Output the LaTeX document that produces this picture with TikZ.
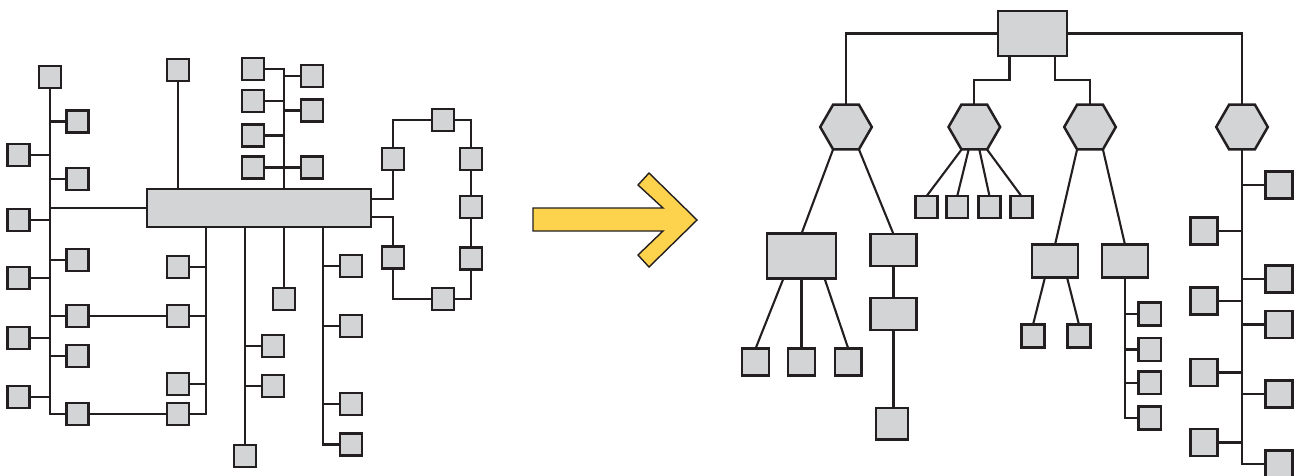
\documentclass[tikz,border=0pt]{standalone}
\usetikzlibrary{shapes.geometric}
\definecolor{boxfill}{RGB}{211,212,214}
\definecolor{ink}{RGB}{35,31,32}
\definecolor{arrowfill}{RGB}{253,211,77}
\begin{document}
\begin{tikzpicture}[x=1pt,y=-1pt,
  box/.style={rectangle, draw=ink, fill=boxfill, line width=2.5pt, inner sep=0pt, outer sep=0pt},
  sq/.style={box, minimum width=#1, minimum height=#1},
  rb/.style 2 args={box, minimum width=#1, minimum height=#2},
  hexa/.style={regular polygon, regular polygon sides=6, draw=ink, fill=boxfill,
    line width=2.5pt, minimum size=51.6pt, inner sep=0pt, outer sep=0pt},
  link/.style={draw=ink, line width=2.1pt},
]
\useasboundingbox (0,0) rectangle (1297,475);
\clip (0,0) rectangle (1297,475);

% ---------- tangled network ----------
\node[sq=21.6pt] (t0) at (50,77) {};
\node[sq=21.6pt] (r1) at (77.5,121.5) {};
\node[sq=21.6pt] (r2) at (77.5,179) {};
\node[sq=21.6pt] (r3) at (77.5,260) {};
\node[sq=21.6pt] (r4) at (77.5,316) {};
\node[sq=21.6pt] (r5) at (77.5,356) {};
\node[sq=21.6pt] (r6) at (77.5,414) {};
\node[sq=21.6pt] (q1) at (18.5,155) {};
\node[sq=21.6pt] (q2) at (18.5,220) {};
\node[sq=21.6pt] (q3) at (18.5,278) {};
\node[sq=21.6pt] (q4) at (18.5,338) {};
\node[sq=21.6pt] (q5) at (18.5,397) {};

\node[rb={223.6pt}{37.6pt}] (hub) at (259,208) {};

\node[sq=21.6pt] (u0) at (178,70) {};
\node[sq=21.6pt] (a1) at (253,69) {};
\node[sq=21.6pt] (a2) at (253,101) {};
\node[sq=21.6pt] (a3) at (253,135.5) {};
\node[sq=21.6pt] (a4) at (253,167.5) {};
\node[sq=21.6pt] (b1) at (312,76) {};
\node[sq=21.6pt] (b2) at (312,110.5) {};
\node[sq=21.6pt] (b3) at (312,167.5) {};

\coordinate (c284) at (284,120);
\coordinate (k1) at (206,300);
\coordinate (k4) at (323,300);

\node[sq=21.6pt] (c1) at (178,267) {};
\node[sq=21.6pt] (c2) at (178,316) {};
\node[sq=21.6pt] (c3) at (178,384) {};
\node[sq=21.6pt] (c4) at (178,414) {};
\node[sq=21.6pt] (e0) at (245,456) {};
\node[sq=21.6pt] (e1) at (273,346) {};
\node[sq=21.6pt] (e2) at (273,386) {};
\node[sq=21.6pt] (f0) at (284,299) {};
\node[sq=21.6pt] (g1) at (351,266) {};
\node[sq=21.6pt] (g2) at (351,326) {};
\node[sq=21.6pt] (g3) at (351,404) {};
\node[sq=21.6pt] (g4) at (351,444.5) {};

\node[sq=21.6pt] (h1) at (393,159) {};
\node[sq=21.6pt] (h2) at (443,120) {};
\node[sq=21.6pt] (h3) at (471,159) {};
\node[sq=21.6pt] (h4) at (471,207) {};
\node[sq=21.6pt] (h5) at (471,258.5) {};
\node[sq=21.6pt] (h6) at (443,299) {};
\node[sq=21.6pt] (h7) at (393,257.5) {};

% left trunk
\draw[link] (t0.south) |- (r6.west);
\foreach \n in {r1,r2,r3,r4,r5} \draw[link] (\n.west) -- (\n.west -| t0);
\foreach \n in {q1,q2,q3,q4,q5} \draw[link] (\n.east) -- (\n.east -| t0);
\draw[link] (hub.west) -- (hub.west -| t0);
% above the hub
\draw[link] (u0.south) -- (u0.south |- hub.north);
\draw[link] (a1.east) -| (c284 |- hub.north);
\foreach \n in {a2,a3} \draw[link] (\n.east) -- (\n.east -| c284);
\foreach \n in {b1,b2} \draw[link] (\n.west) -- (\n.west -| c284);
\draw[link] (a4.east) -- (b3.west);
% below the hub
\draw[link] (k1 |- hub.south) |- (c4.east);
\foreach \n in {c1,c2,c3} \draw[link] (\n.east) -- (\n.east -| k1);
\draw[link] (r4.east) -- (c2.west);
\draw[link] (r6.east) -- (c4.west);
\draw[link] (e0.north) -- (e0.north |- hub.south);
\foreach \n in {e1,e2} \draw[link] (\n.west) -- (\n.west -| e0);
\draw[link] (f0.north) -- (f0.north |- hub.south);
\draw[link] (k4 |- hub.south) |- (g4.west);
\foreach \n in {g1,g2,g3} \draw[link] (\n.west) -- (\n.west -| k4);
% ring
\draw[link] ([yshift=9pt]hub.east) -| (h1.south);
\draw[link] ([yshift=-9pt]hub.east) -| (h7.north);
\draw[link] (h1.north) |- (h2.west);
\draw[link] (h2.east) -| (h3.north);
\draw[link] (h3.south) -- (h4.north);
\draw[link] (h4.south) -- (h5.north);
\draw[link] (h5.south) |- (h6.east);
\draw[link] (h6.west) -| (h7.south);

% ---------- arrow ----------
\draw[draw=ink, fill=arrowfill, line width=1.4pt, line join=miter]
  (533,208) -- (663,208) -- (638,185) -- (649,173) -- (697,220)
  -- (649,267) -- (638,255) -- (663,231) -- (533,231) -- cycle;

% ---------- hierarchy ----------
\node[rb={68.6pt}{44.6pt}] (T) at (1032.5,33.5) {};
\node[hexa] (H1) at (846,127) {};
\node[hexa] (H2) at (974.3,127) {};
\node[hexa] (H3) at (1090,127) {};
\node[hexa] (H4) at (1242,127) {};
\coordinate (j2) at (1000,80);

\node[rb={68.6pt}{44.6pt}] (B1) at (801.5,256) {};
\node[sq=26.6pt] (s1) at (755.5,362) {};
\node[sq=26.6pt] (s2) at (801.5,362) {};
\node[sq=26.6pt] (s3) at (848.3,362) {};
\node[rb={45.6pt}{31.6pt}] (B2) at (893.5,250) {};
\node[rb={45.6pt}{31.6pt}] (B3) at (893.5,314) {};
\node[sq=31.6pt] (S) at (892,423.7) {};

\node[sq=21.6pt] (v1) at (926.5,207) {};
\node[sq=21.6pt] (v2) at (957.2,207) {};
\node[sq=21.6pt] (v3) at (989.5,207) {};
\node[sq=21.6pt] (v4) at (1021.5,207) {};

\node[rb={45.6pt}{32.6pt}] (A) at (1055,261) {};
\node[rb={45.6pt}{32.6pt}] (Bb) at (1125,261) {};
\node[sq=22.6pt] (p1) at (1033,336) {};
\node[sq=22.6pt] (p2) at (1079,336) {};
\node[sq=22.6pt] (w1) at (1149.7,314) {};
\node[sq=22.6pt] (w2) at (1149.7,349.5) {};
\node[sq=22.6pt] (w3) at (1149.7,382.8) {};
\node[sq=22.6pt] (w4) at (1149.7,418) {};

\node[sq=26.6pt] (z1) at (1279,185) {};
\node[sq=26.6pt] (z2) at (1279,279) {};
\node[sq=26.6pt] (z3) at (1279,324.5) {};
\node[sq=26.6pt] (z4) at (1279,394) {};
\node[sq=26.6pt] (z5) at (1279,464) {};
\node[sq=26.6pt] (m1) at (1204,231) {};
\node[sq=26.6pt] (m2) at (1204,301) {};
\node[sq=26.6pt] (m3) at (1204,372.5) {};
\node[sq=26.6pt] (m4) at (1204,442.5) {};

\draw[link] (T.west) -| (H1.north);
\draw[link] (T.east) -| (H4.north);
\draw[link] ([xshift=-23pt]T.south) |- (j2 -| H2) -- (H2.north);
\draw[link] ([xshift=22.5pt]T.south) |- (j2 -| H3) -- (H3.north);

\draw[link] ([xshift=-12.9pt]H1.south) -- (B1.north);
\draw[link] ([xshift=12.9pt]H1.south) -- (B2.north);
\draw[link] (B2.south) -- (B3.north);
\draw[link] (B3.south) -- (B3.south |- S.north);
\draw[link] ([xshift=-18pt]B1.south) -- (s1.north);
\draw[link] (B1.south) -- (s2.north);
\draw[link] ([xshift=23pt]B1.south) -- (s3.north);

\draw[link] ([xshift=-12.6pt]H2.south) -- (v1.north);
\draw[link] ([xshift=-5.6pt]H2.south) -- (v2.north);
\draw[link] ([xshift=5pt]H2.south) -- (v3.north);
\draw[link] ([xshift=12.6pt]H2.south) -- (v4.north);

\draw[link] ([xshift=-12.9pt]H3.south) -- (A.north);
\draw[link] ([xshift=12.9pt]H3.south) -- (Bb.north);
\draw[link] ([xshift=-10pt]A.south) -- (p1.north);
\draw[link] ([xshift=12pt]A.south) -- (p2.north);
\draw[link] (Bb.south) |- (w4.west);
\foreach \n in {w1,w2,w3} \draw[link] (\n.west) -- (\n.west -| Bb);

\draw[link] (H4.south) |- (z5.west);
\foreach \n in {z1,z2,z3,z4} \draw[link] (\n.west) -- (\n.west -| H4);
\foreach \n in {m1,m2,m3,m4} \draw[link] (\n.east) -- (\n.east -| H4);
\end{tikzpicture}
\end{document}
